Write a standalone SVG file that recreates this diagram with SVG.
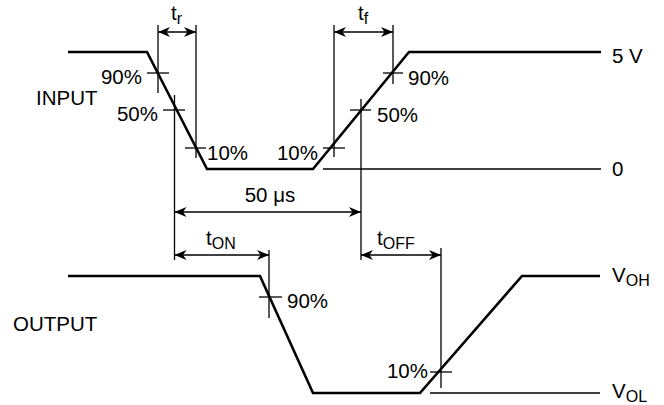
<svg xmlns="http://www.w3.org/2000/svg" width="664" height="405" viewBox="0 0 664 405">
<style>
text{font-family:"Liberation Sans",Arial,sans-serif;font-size:20.5px;fill:#000}
.sub{font-size:16px}
.wave{fill:none;stroke:#000;stroke-width:2.6;stroke-linejoin:miter}
.thin{fill:none;stroke:#000;stroke-width:1.3}
.dim{fill:none;stroke:#000;stroke-width:1.3;marker-start:url(#ah);marker-end:url(#ah)}
</style>
<defs>
<marker id="ah" markerUnits="userSpaceOnUse" markerWidth="13" markerHeight="11" refX="12" refY="5" orient="auto-start-reverse" viewBox="0 0 13 11">
<path d="M0,0 L12,5 L0,10 L3.5,5 Z" fill="#000"/>
</marker>
</defs>
<rect width="664" height="405" fill="#fff"/>
<g id="input-waveform">
<polyline class="wave" points="68,52 147,52 207,169 313,169 409,52 601,52"/>
<line class="thin" x1="323" y1="169" x2="601" y2="169"/>
<text x="36" y="105">INPUT</text>
<text x="612" y="63">5 V</text>
<text x="612" y="176">0</text>
</g>
<g id="output-waveform">
<polyline class="wave" points="68,276 260,276 313,393 420,393 522,276 600,276"/>
<line class="thin" x1="430" y1="393" x2="600" y2="393"/>
<text x="13" y="331">OUTPUT</text>
<text x="612" y="282">V<tspan class="sub" dy="4">OH</tspan></text>
<text x="612" y="398">V<tspan class="sub" dy="4">OL</tspan></text>
</g>
<g id="input-marks">
<line class="thin" x1="147" y1="73" x2="169" y2="73"/>
<line class="thin" x1="163" y1="110" x2="185" y2="110"/>
<line class="thin" x1="185" y1="148" x2="206" y2="148"/>
<line class="thin" x1="323" y1="148" x2="345" y2="148"/>
<line class="thin" x1="350" y1="110" x2="371" y2="110"/>
<line class="thin" x1="383" y1="73" x2="403" y2="73"/>
<text x="142" y="84" text-anchor="end">90%</text>
<text x="158" y="121" text-anchor="end">50%</text>
<text x="207" y="160">10%</text>
<text x="318" y="160" text-anchor="end">10%</text>
<text x="377" y="122">50%</text>
<text x="408" y="85">90%</text>
</g>
<g id="output-marks">
<line class="thin" x1="259" y1="297" x2="282" y2="297"/>
<line class="thin" x1="430" y1="372" x2="452" y2="372"/>
<text x="287" y="308">90%</text>
<text x="428" y="378" text-anchor="end">10%</text>
</g>
<g id="connectors">
<line class="thin" x1="158" y1="25" x2="158" y2="93"/>
<line class="thin" x1="196" y1="25" x2="196" y2="158"/>
<line class="thin" x1="174.5" y1="95" x2="174.5" y2="260"/>
<line class="thin" x1="334" y1="25" x2="334" y2="157"/>
<line class="thin" x1="393" y1="25" x2="393" y2="84"/>
<line class="thin" x1="361" y1="99" x2="361" y2="260"/>
<line class="thin" x1="269" y1="250" x2="269" y2="318"/>
<line class="thin" x1="441" y1="248" x2="441" y2="388"/>
<line class="dim" x1="158" y1="32" x2="196" y2="32"/>
<line class="dim" x1="334" y1="32" x2="393" y2="32"/>
<line class="dim" x1="174.5" y1="212" x2="361" y2="212"/>
<line class="dim" x1="174.5" y1="255" x2="269" y2="255"/>
<line class="dim" x1="361" y1="255" x2="441" y2="255"/>
</g>
<g id="labels">
<text x="171" y="20">t<tspan class="sub" dy="4">r</tspan></text>
<text x="358" y="20">t<tspan class="sub" dy="4">f</tspan></text>
<text x="270" y="202" text-anchor="middle">50 μs</text>
<text x="206" y="245">t<tspan class="sub" dy="4">ON</tspan></text>
<text x="377" y="245">t<tspan class="sub" dy="4">OFF</tspan></text>
</g>
</svg>
